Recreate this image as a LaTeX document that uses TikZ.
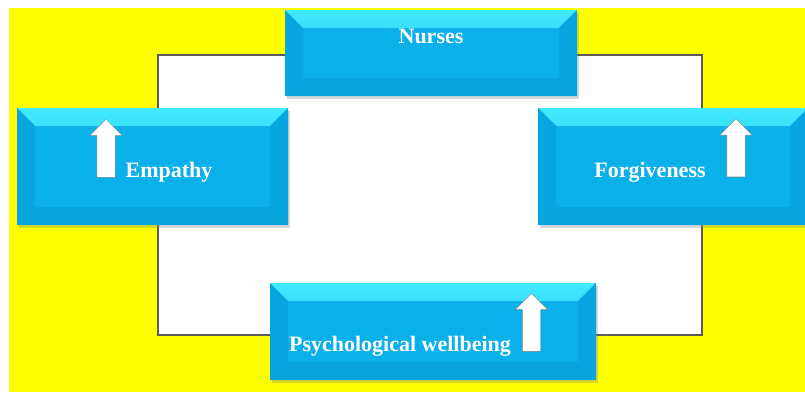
\documentclass[tikz,border=0pt]{standalone}
\usepackage{fontspec}
\setmainfont{Liberation Serif}
\usetikzlibrary{positioning,shapes.arrows,shadows}
\definecolor{boxblue}{RGB}{10,176,234}
\definecolor{boxtop}{RGB}{66,234,255}
\definecolor{boxside}{RGB}{8,166,224}
\definecolor{boxbot}{RGB}{9,164,220}
\definecolor{framegray}{RGB}{90,90,90}
\definecolor{bgyellow}{RGB}{255,255,0}
\tikzstyle{bevelbox}=[rectangle,inner sep=0pt,fill=boxblue,
  drop shadow={shadow xshift=1.5pt,shadow yshift=-3pt,opacity=0.3},
  path picture={
    \def\bb{path picture bounding box}
    \shade[top color=boxtop,bottom color=boxblue] (\bb.north west) -- (\bb.north east)
      -- ([xshift=-18pt,yshift=-18pt]\bb.north east) -- ([xshift=18pt,yshift=-18pt]\bb.north west) -- cycle;
    \fill[boxside] (\bb.north west) -- ([xshift=18pt,yshift=-18pt]\bb.north west)
      -- ([xshift=18pt,yshift=18pt]\bb.south west) -- (\bb.south west) -- cycle;
    \fill[boxside] (\bb.north east) -- ([xshift=-18pt,yshift=-18pt]\bb.north east)
      -- ([xshift=-18pt,yshift=18pt]\bb.south east) -- (\bb.south east) -- cycle;
    \fill[boxbot] (\bb.south west) -- ([xshift=18pt,yshift=18pt]\bb.south west)
      -- ([xshift=-18pt,yshift=18pt]\bb.south east) -- (\bb.south east) -- cycle;
  }]
\tikzstyle{boxtext}=[text=white,font=\bfseries\fontsize{22}{24}\selectfont,inner sep=0pt]
\tikzstyle{uparrow}=[single arrow,shape border rotate=90,fill=white,draw=gray,thin,
  minimum height=58pt,inner sep=9pt,single arrow head extend=7pt,
  single arrow head indent=0pt]

\begin{document}
\begin{tikzpicture}[x=1pt,y=-1pt]
  \clip (0,0) rectangle (805,392);
  \fill[white] (0,0) rectangle (805,392);
  \fill[bgyellow] (9,8) rectangle (805,392);

  % frame behind the boxes
  \draw[framegray,line width=1.2pt,fill=white,
    drop shadow={shadow xshift=1pt,shadow yshift=-1pt,opacity=0.3}] (158,55) rectangle (702,335);

  \node[bevelbox,minimum width=292pt,minimum height=86pt] (nurses) at (431,53) {};
  \node[bevelbox,minimum width=271pt,minimum height=117pt] (empathy) at (152.5,166.5) {};
  \node[bevelbox,minimum width=270pt,minimum height=117pt] (forgiveness) at (673,166.5) {};
  \node[bevelbox,minimum width=326pt,minimum height=97pt] (wellbeing) at (433,331.5) {};

  % labels
  \node[boxtext,yshift=17pt] (nurses-text) at (nurses.center) {Nurses};
  \node[boxtext,xshift=16.5pt,yshift=-5.5pt] (empathy-text) at (empathy.center) {Empathy};
  \node[boxtext,xshift=-23pt,yshift=-5.5pt] (forgiveness-text) at (forgiveness.center) {Forgiveness};
  \node[boxtext,xshift=-33pt,yshift=-14.5pt] (wellbeing-text) at (wellbeing.center) {Psychological wellbeing};

  % up arrows
  \foreach \name / \dx / \dy in {empathy/-46.5/13.5, forgiveness/63/14, wellbeing/98.5/4.5}
    \node[uparrow,xshift=\dx pt,yshift=\dy pt] (\name-arrow) at (\name.center) {};
\end{tikzpicture}
\end{document}
